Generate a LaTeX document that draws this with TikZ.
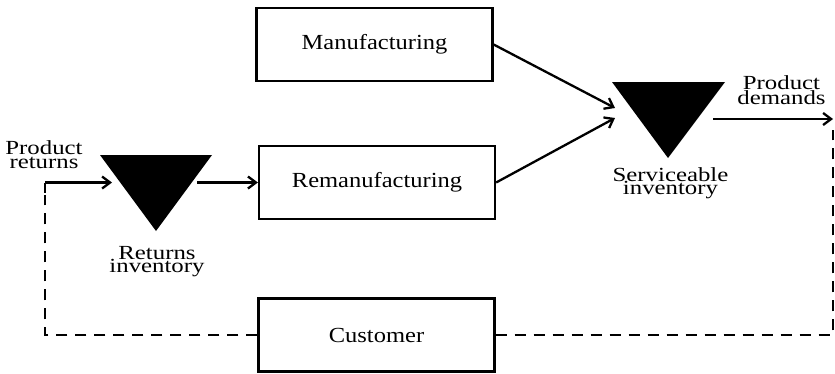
\documentclass[tikz,border=0pt]{standalone}
\usepackage{fontspec}
\setmainfont[FakeStretch=1.14]{Liberation Serif}
\newfontfamily\lblfont[FakeStretch=1.24]{Liberation Serif}
\usetikzlibrary{arrows.meta}
\begin{document}
\begin{tikzpicture}[x=1pt,y=-1pt,
  box/.style={draw, line width=2.3pt, minimum width=236pt, minimum height=73pt, inner sep=0pt, font=\fontsize{21.5}{13}\selectfont},
  lbl/.style={font=\lblfont\fontsize{20}{13.5}\selectfont, align=center, inner sep=0pt},
  arr/.style={line width=2.3pt, -{Straight Barb[length=8pt,width=12pt,line width=2.3pt]}},
  dline/.style={line width=2.8pt, dash pattern=on 11pt off 8pt}]
\useasboundingbox (0,0) rectangle (835,373);
% boxes
\node[box] (manu) at (374.5,44.5) {Manufacturing};
\node[box] (reman) at (377,182.5) {Remanufacturing};
\node[box] (cust) at (376.5,335) {Customer};
% triangles
\fill (100,155) -- (212,155) -- (156,231) -- cycle;
\fill (612,82) -- (725,82) -- (668,158) -- cycle;
\coordinate (retin) at (112,182.5);
\coordinate (retout) at (197,182.5);
\coordinate (servin1) at (615,108);
\coordinate (servin2) at (615,118);
\coordinate (servout) at (713,119);
\coordinate (demend) at (833,119);
\coordinate (corner) at (45,182.5);
\coordinate (lbot) at (45,335);
\coordinate (rbot) at (833,335);
\coordinate (rtop) at (833,130);
% labels
\node[lbl] (prlbl) at (44,154.5) {Product\\returns};
\node[lbl] (rilbl) at (157,261.5) {Returns\\inventory};
\node[lbl] (silbl) at (670.5,183) {Serviceable\\inventory};
\node[lbl] (pdlbl) at (781.5,90) {Product\\demands};
% connectors
\draw[arr] (corner) -- (retin);
\draw[arr] (retout) -- (reman.west);
\draw[arr] (manu.east) -- (servin1);
\draw[arr] (reman.east) -- (servin2);
\draw[arr] (servout) -- (demend);
\draw[line width=2.3pt] (corner) -- ++(0,10);
\draw[dline] (cust.west) -- (lbot) -- ++(0,-140);
\draw[dline] (cust.east) -- (rbot) -- (rtop);
\end{tikzpicture}
\end{document}
